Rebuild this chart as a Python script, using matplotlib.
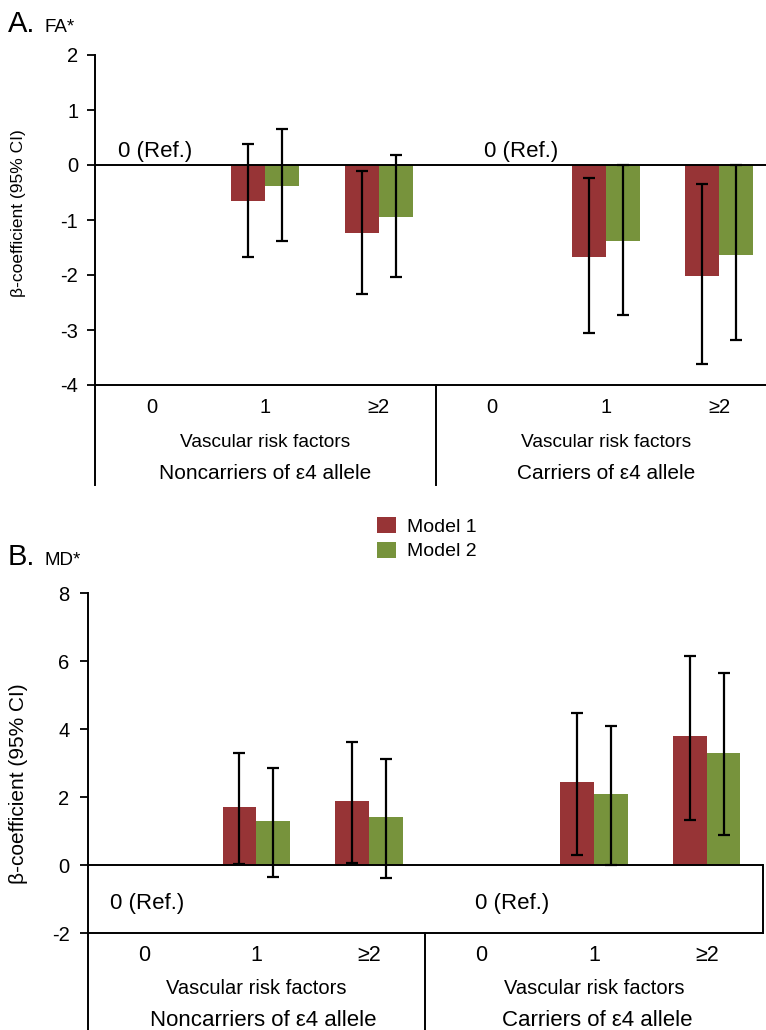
import matplotlib
matplotlib.use('Agg')
import matplotlib.pyplot as plt
import matplotlib.transforms as mtransforms
from matplotlib.patches import Patch
import numpy as np

plt.rcParams['font.family'] = ['Liberation Sans', 'DejaVu Sans']

# ---------------- data ----------------
risk_levels = ['0', '1', '≥2']
carrier_groups = ['Noncarriers of ε4 allele', 'Carriers of ε4 allele']
risk_axis_label = 'Vascular risk factors'
series_names = ['Model 1', 'Model 2']
ref_label = '0 (Ref.)'
ylabel = 'β-coefficient (95% CI)'

# Panel A: FA
fa_model1 = [0.0, -0.66, -1.24, 0.0, -1.67, -2.01]
fa_model1_lo = [None, -1.67, -2.34, None, -3.05, -3.62]
fa_model1_hi = [None, 0.38, -0.10, None, -0.24, -0.35]
fa_model2 = [0.0, -0.39, -0.94, 0.0, -1.39, -1.63]
fa_model2_lo = [None, -1.39, -2.03, None, -2.72, -3.18]
fa_model2_hi = [None, 0.65, 0.19, None, 0.00, 0.00]

# Panel B: MD
md_model1 = [0.0, 1.71, 1.88, 0.0, 2.45, 3.81]
md_model1_lo = [None, 0.03, 0.06, None, 0.31, 1.34]
md_model1_hi = [None, 3.31, 3.62, None, 4.49, 6.16]
md_model2 = [0.0, 1.30, 1.41, 0.0, 2.11, 3.31]
md_model2_lo = [None, -0.35, -0.38, None, 0.02, 0.89]
md_model2_hi = [None, 2.87, 3.13, None, 4.10, 5.65]

colors = ['#973436', '#77933C']
W, H = 766, 1030


def fig_rect(left, top, right, bottom):
    return [left / W, 1 - bottom / H, (right - left) / W, (bottom - top) / H]


def draw_panel(ax, series, ylim, yticks, fs, table_y, ref_xy, ylabel_y, box_right,
               grp_dx):
    n = len(risk_levels) * len(carrier_groups)
    x = np.arange(n)
    width = 0.3
    offs = [-0.15, 0.15]
    for k, (vals, lo, hi) in enumerate(series):
        ax.bar(x + offs[k], vals, width=width, color=colors[k], edgecolor='none', zorder=2)
        idx = [i for i in range(n) if lo[i] is not None]
        v = np.array([vals[i] for i in idx])
        l = np.array([lo[i] for i in idx])
        h = np.array([hi[i] for i in idx])
        ax.errorbar(x[idx] + offs[k], v, yerr=[v - l, h - v], fmt='none',
                    ecolor='black', elinewidth=1.6, capsize=4, capthick=1.6, zorder=3)
    ax.axhline(0, color='black', lw=1.4, zorder=4)
    ax.set_xlim(-0.5, n - 0.5)
    ax.set_ylim(*ylim)
    ax.set_yticks(yticks)
    ax.set_yticklabels([str(t) for t in yticks])
    ax.set_xticks([])
    ax.tick_params(axis='y', direction='out', length=6, width=1.3, pad=fs['pad'],
                   labelsize=fs['tick'])
    ax.spines['top'].set_visible(False)
    if box_right:
        ax.spines['right'].set_bounds(ylim[0], 0)
        ax.spines['right'].set_linewidth(1.4)
    else:
        ax.spines['right'].set_visible(False)
    ax.spines['left'].set_linewidth(1.4)
    ax.spines['bottom'].set_linewidth(1.4)
    ax.set_ylabel(ylabel, fontsize=fs['ylabel'])
    ax.yaxis.set_label_coords(fs['ylabel_x'], ylabel_y)

    trans = mtransforms.blended_transform_factory(ax.transData, ax.transAxes)
    y_end, y_cat, y_vrf, y_grp = table_y
    for xv in [-0.5, 2.5]:
        ax.plot([xv, xv], [0, y_end], transform=trans, color='black', lw=1.4,
                clip_on=False)
    for g in range(len(carrier_groups)):
        for j, lab in enumerate(risk_levels):
            ax.text(g * 3 + j, y_cat, lab, transform=trans, ha='center', va='center',
                    fontsize=fs['cat'])
        ax.text(g * 3 + 1, y_vrf, risk_axis_label, transform=trans, ha='center',
                va='center', fontsize=fs['vrf'])
        ax.text(g * 3 + 1 + grp_dx[g], y_grp, carrier_groups[g], transform=trans,
                ha='center', va='center', fontsize=fs['grp'])
    for (rx, ry) in ref_xy:
        ax.text(rx, ry, ref_label, ha='center', va='center', fontsize=fs['ref'])


fig = plt.figure(figsize=(W / 100, H / 100), dpi=100)

axA = fig.add_axes(fig_rect(95, 55, 776, 385))
draw_panel(axA,
           [(fa_model1, fa_model1_lo, fa_model1_hi), (fa_model2, fa_model2_lo, fa_model2_hi)],
           (-4, 2), [2, 1, 0, -1, -2, -3, -4],
           dict(tick=14.5, cat=14.5, vrf=13.8, grp=15, ref=16, ylabel=12.5, pad=6,
                ylabel_x=(26 - 95) / 681),
           ((385 - 485) / 330, -0.067, -0.173, -0.267),
           [(0.03, 0.24), (3.25, 0.24)], 0.52, False, (0.0, 0.0))

axB = fig.add_axes(fig_rect(87.5, 593.3, 763, 933.3))
draw_panel(axB,
           [(md_model1, md_model1_lo, md_model1_hi), (md_model2, md_model2_lo, md_model2_hi)],
           (-2, 8), [8, 6, 4, 2, 0, -2],
           dict(tick=14.5, cat=15.5, vrf=14.5, grp=16, ref=16, ylabel=15, pad=7,
                ylabel_x=(28 - 87.5) / 675.5),
           ((933.3 - 1035) / 340, -0.064, -0.161, -0.255),
           [(0.03, -1.11), (3.27, -1.11)], 0.44, True, (0.06, 0.03))

fig.text(8 / W, 1 - 32 / H, 'A.', fontsize=21, va='baseline', ha='left')
fig.text(44 / W, 1 - 32 / H, 'FA*', fontsize=13.5, va='baseline', ha='left')
fig.text(8 / W, 1 - 565 / H, 'B.', fontsize=21, va='baseline', ha='left')
fig.text(44 / W, 1 - 565 / H, 'MD*', fontsize=13.5, va='baseline', ha='left')

handles = [Patch(facecolor=c, edgecolor='none') for c in colors]
fig.legend(handles, series_names, loc='upper left',
           bbox_to_anchor=(377 / W, 1 - 517 / H), frameon=False, fontsize=14,
           handlelength=1.0, handleheight=0.9, handletextpad=0.55,
           labelspacing=0.3, borderpad=0, borderaxespad=0)

fig.savefig('out.png', dpi=100)
